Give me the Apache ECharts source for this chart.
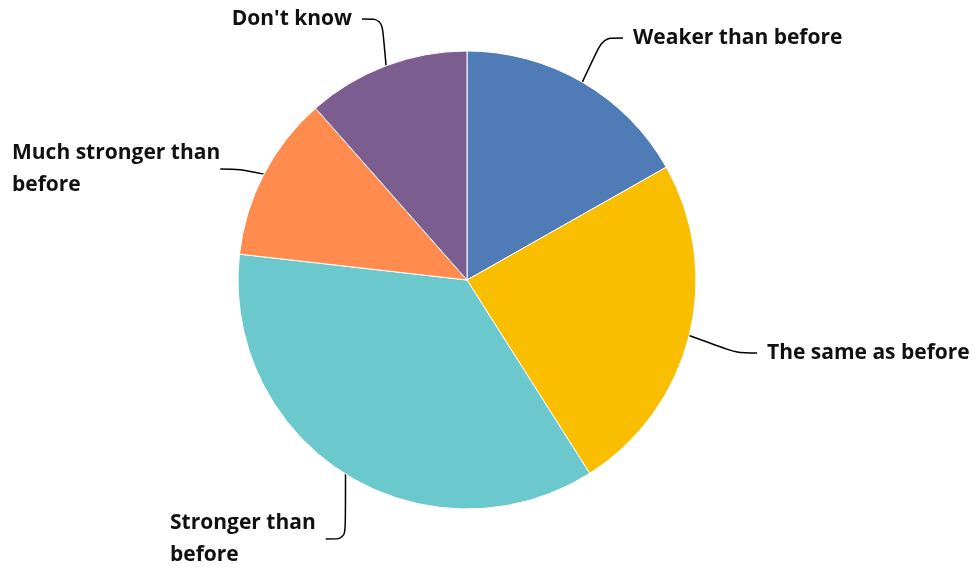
<!DOCTYPE html>
<html>
<head>
<meta charset="utf-8">
<script src="https://cdn.jsdelivr.net/npm/echarts@6/dist/echarts.min.js"></script>
<style>html,body{margin:0;padding:0;background:#fff}#c{width:977px;height:569px}</style>
</head>
<body>
<div id="c"></div>
<script>
const categories = ['Weaker than before', 'The same as before', 'Stronger than before', 'Much stronger than before', "Don't know"];
const values = [16.8, 24.2, 35.8, 11.7, 11.5];
const labelTexts = ['Weaker than before', 'The same as before', 'Stronger than\nbefore', 'Much stronger than\nbefore', "Don't know"];
const colors = ['#4f7cb6', '#f9be00', '#6bc8cc', '#ff8b4f', '#7b5e8f'];

const labelPlace = [
  {x: 623, y: 38, align: 'left'},
  {x: 757, y: 353, align: 'left'},
  {x: 160, y: 539, align: 'left'},
  {x: 2, y: 169, align: 'left'},
  {x: 362, y: 19, align: 'right'}
];

const chart = echarts.init(document.getElementById('c'));
chart.setOption({
  animation: false,
  color: colors,
  series: [{
    type: 'pie',
    center: [467, 280],
    radius: 229,
    startAngle: 90,
    clockwise: true,
    bleedMargin: 0,
    data: categories.map((n, i) => ({name: n, value: values[i]})),
    itemStyle: {borderColor: '#fff', borderWidth: 1},
    label: {
      show: true,
      position: 'outside',
      formatter: p => labelTexts[p.dataIndex],
      fontFamily: 'Open Sans',
      fontWeight: 'bold',
      fontSize: 21,
      lineHeight: 32,
      padding: [0, 10],
      overflow: 'none',
      color: '#111'
    },
    labelLine: {
      show: true,
      length: 20,
      length2: 20,
      smooth: 0.3,
      lineStyle: {color: '#000', width: 1.5}
    },
    labelLayout: function (params) {
      const p = labelPlace[params.dataIndex];
      return {x: p.x, y: p.y, align: p.align, verticalAlign: 'middle'};
    }
  }]
});
</script>
</body>
</html>
